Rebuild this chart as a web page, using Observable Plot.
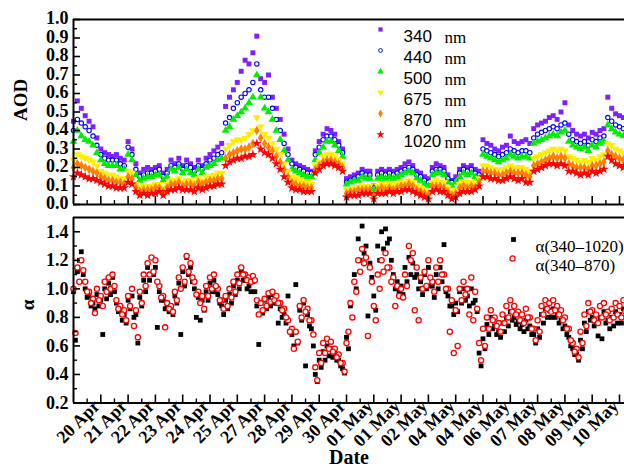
<!DOCTYPE html>
<html><head><meta charset="utf-8">
<script src="https://cdn.jsdelivr.net/npm/d3@7"></script>
<script src="https://cdn.jsdelivr.net/npm/@observablehq/plot@0.6"></script>
<style>
body{margin:0;background:#fff}
#chart{position:relative;width:624px;height:469px;overflow:hidden;background:#fff}
#chart svg{position:absolute;left:0;overflow:visible;background:transparent}
</style></head><body><div id="chart"></div>
<script>
// ---- tick labels (x axis is observation index; labels at every 7th index) ----
const dateLabels = ["20 Apr","21 Apr","22 Apr","23 Apr","24 Apr","25 Apr","27 Apr","28 Apr","29 Apr","30 Apr",
  "01 May","01 May","02 May","04 May","04 May","06 May","07 May","08 May","09 May","10 May"];
const aodTicks = [0.0,0.1,0.2,0.3,0.4,0.5,0.6,0.7,0.8,0.9,1.0];
const aodMinorTicks = [0.05,0.15,0.25,0.35,0.45,0.55,0.65,0.75,0.85,0.95];
const alphaTicks = [0.2,0.4,0.6,0.8,1.0,1.2,1.4];
const alphaMinorTicks = [0.3,0.5,0.7,0.9,1.1,1.3];

// ---- AOD series (one value per observation index) ----
const aod340 = [.45,.56,.52,.48,.45,.42,.36,.30,.28,.27,.26,.27,.25,.24,.34,.30,.22,
 .17,.19,.20,.19,.20,.21,.17,.19,.24,.22,.25,.21,.24,.22,.20,.24,.21,.25,.27,.29,.31,.33,
 .53,.58,.62,.66,.72,.78,.76,.82,.91,.68,.66,.70,.58,.52,.46,.38,.30,.24,.22,.21,.20,.19,.18,
 .29,.34,.38,.41,.40,.38,.34,.30,
 .14,.15,.16,.17,.19,.18,.18,.10,.18,.19,.18,.19,.18,.19,.20,.22,.23,.21,.18,.17,.15,.14,.20,.22,.21,.20,.16,.13,.15,.19,.21,.20,.21,.19,.18,
 .35,.33,.32,.30,.29,.31,.32,.37,.34,.33,.34,.35,.33,
 .41,.43,.44,.45,.47,.48,.46,.50,.55,.43,.40,.38,.37,.38,.36,.39,.38,.40,.41,
 .58,.52,.49,.48,.47];
const aod440 = [.40,.46,.44,.42,.40,.37,.32,.27,.25,.24,.24,.24,.22,.21,.31,.27,.19,
 .15,.16,.17,.17,.18,.19,.15,.17,.21,.20,.22,.19,.21,.20,.18,.21,.19,.22,.24,.25,.27,.28,
 .44,.47,.52,.55,.58,.60,.62,.66,.76,.62,.58,.58,.52,.46,.40,.33,.27,.22,.20,.19,.18,.17,.17,
 .27,.31,.35,.37,.37,.35,.32,.28,
 .12,.13,.14,.15,.17,.16,.16,.09,.16,.17,.16,.17,.16,.17,.18,.19,.20,.19,.16,.15,.13,.12,.18,.19,.19,.18,.14,.12,.13,.17,.19,.18,.19,.17,.16,
 .30,.29,.28,.27,.26,.27,.28,.30,.29,.28,.29,.29,.28,
 .36,.38,.39,.40,.41,.42,.41,.43,.44,.38,.35,.34,.33,.34,.32,.35,.34,.36,.37,
 .47,.45,.43,.42,.41];
const aod500 = [.34,.40,.37,.35,.34,.32,.28,.24,.22,.21,.21,.21,.19,.19,.27,.24,.16,
 .13,.14,.15,.15,.16,.16,.13,.15,.19,.18,.20,.17,.19,.17,.16,.19,.17,.20,.21,.22,.24,.25,
 .40,.42,.46,.48,.50,.52,.55,.58,.70,.58,.52,.50,.46,.40,.35,.29,.24,.19,.18,.17,.16,.15,.15,
 .24,.28,.31,.34,.34,.32,.29,.26,
 .11,.12,.13,.13,.15,.14,.14,.08,.14,.15,.14,.15,.14,.15,.16,.17,.18,.17,.14,.13,.11,.10,.16,.17,.17,.16,.12,.10,.12,.15,.17,.16,.17,.15,.14,
 .27,.26,.25,.24,.23,.24,.25,.27,.26,.25,.26,.26,.25,
 .33,.34,.35,.36,.37,.38,.37,.39,.40,.34,.32,.31,.30,.31,.29,.32,.31,.33,.34,
 .43,.41,.39,.38,.37];
const aod675 = [.24,.27,.26,.25,.24,.23,.21,.18,.17,.16,.16,.15,.14,.14,.18,.17,.11,
 .09,.10,.10,.10,.11,.11,.09,.11,.13,.13,.14,.12,.13,.13,.12,.14,.13,.15,.15,.16,.17,.17,
 .30,.32,.34,.35,.35,.36,.38,.40,.47,.42,.38,.36,.33,.30,.27,.22,.18,.15,.14,.13,.12,.12,.11,
 .21,.23,.26,.27,.27,.26,.24,.22,
 .08,.08,.09,.09,.10,.10,.10,.06,.10,.11,.10,.11,.10,.11,.12,.12,.13,.12,.10,.09,.08,.07,.12,.13,.12,.12,.09,.07,.08,.11,.12,.12,.12,.11,.14,
 .21,.21,.20,.19,.19,.19,.20,.21,.20,.20,.20,.19,.18,
 .25,.26,.27,.28,.29,.30,.29,.30,.29,.26,.25,.24,.23,.24,.23,.25,.24,.26,.27,
 .33,.32,.30,.29,.28];
const aod870 = [.20,.22,.21,.20,.19,.18,.17,.15,.14,.13,.13,.12,.12,.11,.15,.14,.09,
 .07,.08,.08,.08,.09,.09,.07,.09,.11,.11,.12,.10,.11,.11,.10,.12,.11,.12,.13,.13,.14,.14,
 .25,.27,.28,.29,.30,.30,.31,.33,.40,.36,.33,.31,.29,.26,.23,.19,.15,.12,.11,.10,.10,.09,.09,
 .19,.21,.23,.24,.24,.23,.22,.20,
 .06,.07,.07,.08,.08,.08,.08,.05,.08,.09,.08,.09,.08,.09,.10,.10,.11,.10,.08,.07,.06,.05,.10,.10,.10,.09,.07,.05,.06,.09,.10,.09,.10,.09,.12,
 .18,.18,.17,.17,.16,.16,.17,.18,.17,.17,.17,.16,.15,
 .21,.22,.23,.24,.25,.26,.25,.26,.25,.22,.21,.20,.20,.20,.19,.21,.21,.22,.23,
 .29,.27,.26,.25,.24];
const aod1020 = [.15,.17,.16,.15,.14,.14,.13,.12,.11,.10,.10,.09,.09,.09,.12,.11,.07,
 .05,.06,.05,.06,.06,.07,.05,.07,.08,.08,.09,.08,.08,.08,.07,.09,.08,.09,.10,.10,.11,.11,
 .21,.23,.24,.25,.25,.26,.26,.27,.33,.30,.28,.27,.25,.22,.19,.15,.12,.09,.08,.08,.07,.07,.07,
 .17,.19,.21,.22,.22,.21,.20,.18,
 .04,.05,.05,.05,.06,.06,.06,.03,.06,.06,.06,.07,.06,.07,.07,.08,.08,.07,.06,.05,.04,.03,.07,.08,.07,.07,.05,.03,.04,.06,.07,.07,.07,.08,.10,
 .15,.15,.14,.14,.13,.13,.14,.15,.14,.13,.14,.12,.12,
 .18,.19,.20,.21,.22,.22,.21,.22,.21,.18,.18,.17,.16,.17,.16,.18,.17,.18,.19,
 .26,.24,.22,.21,.20];

// ---- Angstrom exponent, two readings per observation index ----
const alpha870a = [1.00,1.15,1.20,1.05,0.98,0.93,1.00,0.95,1.05,1.08,
 1.10,0.92,0.88,0.85,0.95,1.00,0.85,0.98,1.10,1.18,
 1.22,1.20,1.02,0.95,0.90,0.88,0.98,1.08,1.15,1.23,
 1.18,1.05,0.98,0.95,1.02,1.08,1.10,1.00,0.92,0.95,
 1.00,1.05,1.10,1.15,1.10,1.08,1.09,0.92,0.90,0.93,
 0.97,0.98,0.95,0.90,0.86,0.78,0.72,0.70,0.88,0.92,
 0.86,0.78,0.45,0.55,0.62,0.65,0.63,0.58,0.54,0.48,
 0.62,0.90,1.05,1.20,1.28,1.22,1.15,0.88,1.10,1.20,
 1.25,1.15,1.08,1.02,1.00,1.10,1.30,1.25,1.15,1.08,
 1.12,1.20,1.05,1.15,1.20,1.10,1.00,0.92,0.85,1.00,
 1.05,1.00,1.08,0.98,0.62,0.72,0.80,0.85,0.80,0.76,
 0.82,0.88,0.92,0.88,0.84,0.82,0.86,0.80,0.72,0.78,
 0.88,0.92,0.90,0.92,0.88,0.85,0.80,0.72,0.62,0.58,
 0.70,0.82,0.90,0.85,0.82,0.88,0.90,0.84,0.86,0.90,
 0.88,0.92];
const alpha870b = [0.69,1.05,1.13,0.98,0.90,0.83,0.92,0.88,0.98,1.00,
 1.02,0.86,0.82,0.78,0.88,0.74,0.66,0.90,1.02,1.10,
 1.12,1.05,0.94,0.73,0.86,0.84,0.92,1.00,1.05,1.12,
 1.08,0.96,0.90,0.86,0.95,1.00,1.02,0.92,0.86,0.88,
 0.94,0.98,1.04,1.10,1.06,1.05,1.06,0.82,0.85,0.88,
 0.91,0.92,0.90,0.85,0.80,0.70,0.58,0.63,0.80,0.84,
 0.78,0.68,0.36,0.48,0.55,0.58,0.56,0.52,0.48,0.42,
 0.70,0.80,0.98,1.12,1.18,0.67,1.05,0.78,1.00,1.12,
 1.15,1.05,0.88,0.95,0.94,1.02,1.20,0.85,0.78,1.00,
 1.02,1.08,0.98,1.05,1.10,1.00,0.70,0.55,0.60,0.92,
 0.96,0.82,0.78,0.86,0.50,0.60,0.72,0.78,0.74,0.70,
 0.76,0.80,0.84,0.82,0.78,0.76,0.80,0.72,0.64,0.70,
 0.82,0.86,0.84,0.85,0.82,0.78,0.72,0.64,0.56,0.52,
 0.62,0.74,0.84,0.78,0.76,0.80,0.82,0.78,0.80,0.82,
 0.80,0.84];
const alpha1020a = [0.98,1.12,1.26,1.00,0.95,0.90,0.96,0.92,1.00,1.04,
 1.08,0.90,0.85,0.82,0.92,0.95,0.82,0.94,1.06,1.15,
 1.22,1.15,0.98,0.92,0.88,0.86,0.95,1.04,1.12,1.22,
 1.15,1.00,0.94,0.92,0.98,1.04,1.06,0.96,0.88,0.92,
 0.96,1.02,1.06,1.12,1.06,1.02,1.05,0.88,0.90,0.92,
 0.94,0.96,0.90,0.86,0.82,0.95,0.68,1.03,0.85,0.90,
 0.82,0.72,0.40,0.50,0.56,0.60,0.58,0.55,0.50,0.44,
 0.66,0.88,1.10,1.35,1.44,1.30,1.18,0.95,1.30,1.40,
 1.42,1.35,1.10,1.05,1.02,1.15,1.22,1.18,1.10,1.05,
 1.10,1.15,1.02,1.10,1.15,1.31,0.95,0.88,0.90,0.98,
 1.00,0.95,1.00,0.92,0.55,0.65,0.75,0.80,0.74,0.70,
 0.76,0.80,0.84,0.80,0.77,0.75,0.78,0.74,0.68,0.72,
 0.82,0.86,0.85,0.86,0.82,0.78,0.74,0.66,0.58,0.54,
 0.64,0.76,0.84,0.80,0.76,0.80,0.84,0.78,0.80,0.84,
 0.82,0.86];
const alpha1020b = [0.64,1.20,1.10,0.94,0.88,0.86,0.88,0.68,0.93,0.96,
 0.98,0.84,0.78,0.76,0.86,0.80,0.62,0.88,0.98,1.06,
 1.10,0.73,0.92,0.86,0.84,0.82,0.90,0.68,1.02,1.10,
 1.05,0.80,0.78,0.85,0.92,0.98,0.98,0.90,0.82,0.86,
 0.90,0.96,1.00,1.06,1.00,0.98,0.98,0.61,0.83,0.86,
 0.88,0.90,0.76,0.80,0.76,0.70,0.60,0.62,0.78,0.46,
 0.74,0.60,0.35,0.45,0.50,0.53,0.52,0.50,0.46,0.41,
 0.58,0.80,1.00,1.20,1.25,0.81,1.08,0.85,1.20,1.28,
 1.32,1.20,1.00,0.98,0.96,1.05,1.10,1.08,1.00,0.96,
 1.00,1.02,0.94,1.00,1.05,0.98,0.88,0.82,0.84,0.90,
 0.92,0.88,0.90,0.84,0.46,0.58,0.68,0.72,0.68,0.66,
 0.70,0.74,0.78,0.75,0.72,0.70,0.72,0.68,0.62,0.66,
 0.76,0.80,0.80,0.80,0.76,0.72,0.68,0.60,0.54,0.50,
 0.58,0.70,0.78,0.74,0.67,0.65,0.76,0.72,0.74,0.76,
 0.76,0.80];

// ---- layout / style ----
const W = 624, ML = 73;
const xDomain = [0, 141.28];
const majorPos = dateLabels.map((_, k) => (k + 1) * 7);
const minorPos = dateLabels.map((_, k) => k * 7 + 3.5);
const serif = "'Liberation Serif','Times New Roman',serif";
const sans = "'Liberation Sans',Arial,sans-serif";
const plotW = W - ML;

const triangleDown = {
  draw(context, size) {
    const s = Math.sqrt(size / (Math.sqrt(3) * 3));
    context.moveTo(0, 2 * s);
    context.lineTo(-Math.sqrt(3) * s, -s);
    context.lineTo(Math.sqrt(3) * s, -s);
    context.closePath();
  }
};
const pts = (values, off = 0) => values.map((v, i) => ({x: i + off, y: v}));

const aodSeries = [
  {key: "340",  values: aod340,  symbol: "square",   fill: "#8020ff", stroke: null, r: 2.8},
  {key: "440",  values: aod440,  symbol: "circle",   fill: "#ffffff", stroke: "#0000ff", r: 2.2},
  {key: "500",  values: aod500,  symbol: "triangle", fill: "#00ee00", stroke: null, r: 2.9},
  {key: "675",  values: aod675,  symbol: triangleDown, fill: "#ffee00", stroke: null, r: 2.9},
  {key: "870",  values: aod870,  symbol: "diamond",  fill: "#ff8000", stroke: null, r: 2.9},
  {key: "1020", values: aod1020, symbol: "star",     fill: "#ff0000", stroke: null, r: 3.0}
];
const dotOpts = s => {
  const o = {x: "x", y: "y", symbol: s.symbol, r: s.r, fill: s.fill};
  if (s.stroke) { o.stroke = s.stroke; o.strokeWidth = 1.1; }
  return o;
};
const legendDot = (s, dx, dy) => {
  const o = {frameAnchor: "top-left", dx, dy, symbol: s.symbol, r: s.r * 0.85, fill: s.fill};
  if (s.stroke) { o.stroke = s.stroke; o.strokeWidth = 1; }
  return Plot.dot([0], o);
};

// ---------- top panel ----------
const topH = 210, topMT = 19, topMB = 6;
const topPlotH = topH - topMT - topMB;
const topMarks = [];
aodSeries.forEach(s => topMarks.push(Plot.dot(pts(s.values), dotOpts(s))));
topMarks.push(
  Plot.tickY(aodTicks, {y: d => d, insetRight: plotW - 7, strokeWidth: 1.6}),
  Plot.tickY(aodMinorTicks, {y: d => d, insetRight: plotW - 4, strokeWidth: 1.4}),
  Plot.tickX(majorPos, {x: d => d, insetTop: topPlotH - 8, strokeWidth: 1.6}),
  Plot.tickX(minorPos, {x: d => d, insetTop: topPlotH - 4, strokeWidth: 1.4}),
  Plot.ruleY([1], {strokeWidth: 2}),
  Plot.ruleY([0], {strokeWidth: 2}),
  Plot.ruleX([0], {strokeWidth: 2}),
  Plot.axisY(aodTicks, {tickSize: 0, tickPadding: 5, tickFormat: d3.format(".1f"), label: null,
    dy: -1, fontFamily: serif, fontWeight: "bold", fontSize: 18}),
  Plot.text(["AOD"], {frameAnchor: "left", dx: -53, dy: 9, rotate: -90, fontFamily: serif,
    fontWeight: "bold", fontSize: 19})
);
aodSeries.forEach((s, k) => {
  const dy = 10 + 21 * k;
  topMarks.push(
    legendDot(s, 307, dy),
    Plot.text([s.key], {frameAnchor: "top-left", dx: 330, dy, textAnchor: "start", fontFamily: sans, fontSize: 17}),
    Plot.text(["nm"], {frameAnchor: "top-left", dx: 371, dy: dy + 1, textAnchor: "start", fontFamily: serif, fontSize: 17})
  );
});
const topPlot = Plot.plot({
  width: W, height: topH,
  marginLeft: ML, marginRight: 0, marginTop: topMT, marginBottom: topMB,
  style: {overflow: "visible", background: "transparent"},
  x: {domain: xDomain, axis: null},
  y: {domain: [0, 1], axis: null},
  marks: topMarks
});
topPlot.style.top = "0px";

// ---------- bottom panel ----------
const botH = 259, botMT = 7, botMB = 66.5;
const botPlotH = botH - botMT - botMB;
const blackSq = {symbol: "square", r: 2.7, fill: "#000000"};
const redCirc = {symbol: "circle", r: 2.6, fill: "#ffffff", stroke: "#ff0000", strokeWidth: 1.3};
const bottomPlot = Plot.plot({
  width: W, height: botH,
  marginLeft: ML, marginRight: 0, marginTop: botMT, marginBottom: botMB,
  style: {overflow: "visible", background: "transparent"},
  x: {domain: xDomain},
  y: {domain: [0.2, 1.5]},
  marks: [
    Plot.dot(pts(alpha1020a), {x: "x", y: "y", ...blackSq}),
    Plot.dot(pts(alpha1020b, 0.5), {x: "x", y: "y", ...blackSq}),
    Plot.dot(pts(alpha870a), {x: "x", y: "y", ...redCirc}),
    Plot.dot(pts(alpha870b, 0.5), {x: "x", y: "y", ...redCirc}),
    Plot.tickY(alphaTicks, {y: d => d, insetRight: plotW - 7, strokeWidth: 1.6}),
    Plot.tickY(alphaMinorTicks, {y: d => d, insetRight: plotW - 4, strokeWidth: 1.4}),
    Plot.tickX(majorPos, {x: d => d, insetTop: botPlotH - 8, strokeWidth: 1.6}),
    Plot.tickX(minorPos, {x: d => d, insetTop: botPlotH - 4, strokeWidth: 1.4}),
    Plot.ruleY([1.5], {strokeWidth: 2}),
    Plot.ruleY([0.2], {strokeWidth: 2}),
    Plot.ruleX([0], {strokeWidth: 2}),
    Plot.axisY(alphaTicks, {tickSize: 0, tickPadding: 5, tickFormat: d3.format(".1f"), label: null,
      fontFamily: serif, fontWeight: "bold", fontSize: 18}),
    Plot.axisX(majorPos, {tickSize: 0, tickPadding: 2, tickRotate: -45, label: null, dx: -4, dy: -2,
      tickFormat: d => dateLabels[Math.round(d / 7) - 1],
      fontFamily: serif, fontWeight: "bold", fontSize: 18}),
    Plot.text(["α"], {frameAnchor: "left", dx: -46, rotate: -90, fontFamily: serif, fontWeight: "bold", fontSize: 19}),
    Plot.text(["Date"], {frameAnchor: "bottom", dy: 61, fontFamily: serif, fontWeight: "bold", fontSize: 20}),
    Plot.dot([0], {frameAnchor: "top-left", dx: 440, dy: 22, ...blackSq}),
    Plot.text(["α(340–1020)"], {frameAnchor: "top-left", dx: 462, dy: 22, textAnchor: "start", fontFamily: serif, fontSize: 17}),
    Plot.dot([0], {frameAnchor: "top-left", dx: 439, dy: 41, ...redCirc}),
    Plot.text(["α(340–870)"], {frameAnchor: "top-left", dx: 462, dy: 41, textAnchor: "start", fontFamily: serif, fontSize: 17})
  ]
});
bottomPlot.style.top = "210px";

const chart = document.getElementById("chart");
chart.appendChild(topPlot);
chart.appendChild(bottomPlot);
</script>
</body></html>
